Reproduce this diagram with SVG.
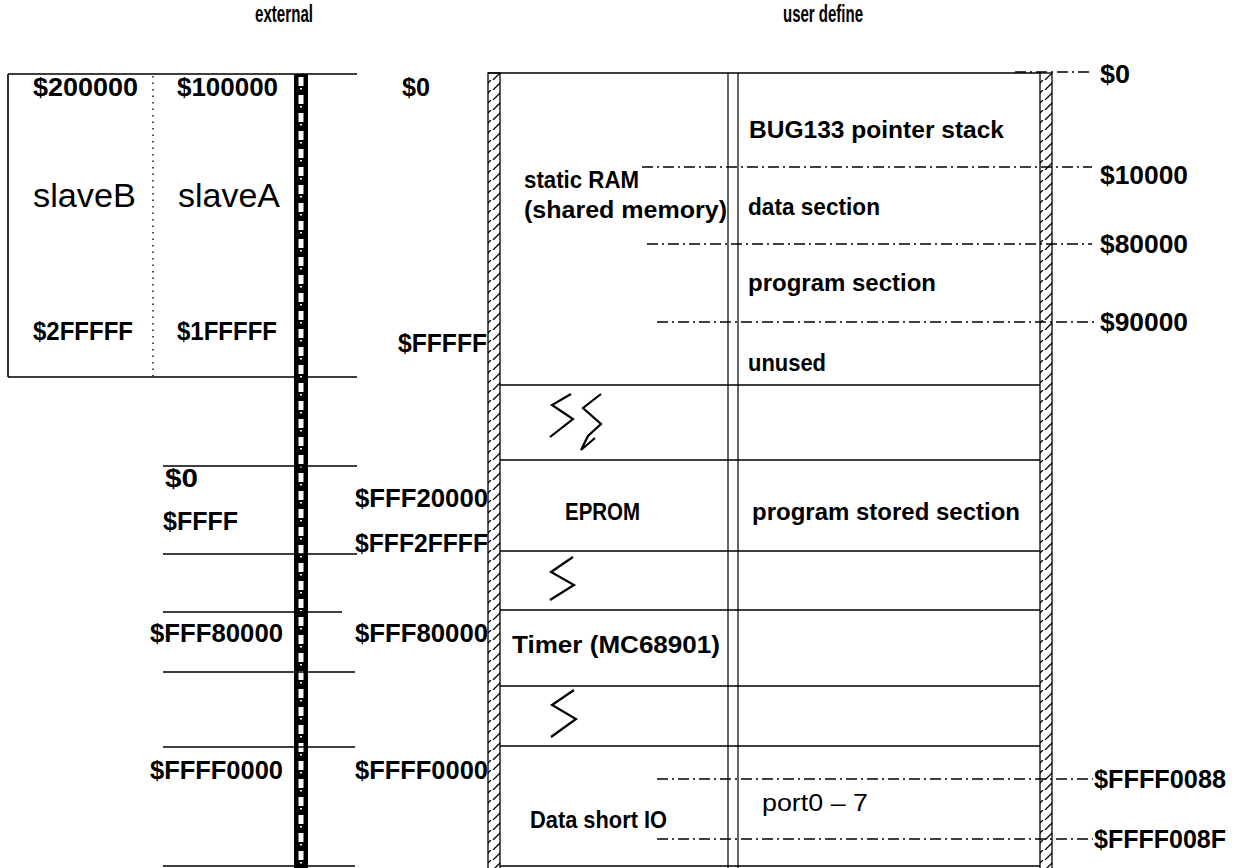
<svg xmlns="http://www.w3.org/2000/svg" width="1239" height="868" viewBox="0 0 1239 868">
<style>
text{font-family:"Liberation Sans",Arial,sans-serif;fill:#000}
.b{font-weight:bold;font-size:26px}
.m{font-weight:bold;font-size:23px}
.r{font-weight:normal;font-size:34px}
.h{font-weight:bold;font-size:24px}
.ln{stroke:#000;stroke-width:1.6;fill:none}
.thin{stroke:#000;stroke-width:1.2;fill:none}
.dd{stroke:#000;stroke-width:1.4;fill:none;stroke-dasharray:11 4 2 4}
.sq{stroke:#000;stroke-width:2.2;fill:none;stroke-linejoin:miter}
</style>
<defs>
<pattern id="hatch" patternUnits="userSpaceOnUse" width="12" height="10" x="0" y="0">
<rect width="12" height="10" fill="#fff"/>
<path d="M1,10 L11,0" stroke="#000" stroke-width="1.3"/>
</pattern>
<pattern id="busp" patternUnits="userSpaceOnUse" x="294" y="74" width="14" height="18">
<rect width="14" height="18" fill="#000"/>
<rect x="4.5" y="3" width="5" height="9" fill="#fff"/>
<rect x="6" y="14" width="2" height="1.5" fill="#fff"/>
</pattern>
</defs>
<rect width="1239" height="868" fill="#fff"/>

<g id="headers">
<text class="h" x="255" y="22" textLength="58" lengthAdjust="spacingAndGlyphs">external</text>
<text class="h" x="783" y="22" textLength="80" lengthAdjust="spacingAndGlyphs">user define</text>
</g>

<g id="slaves">
<path class="ln" d="M8,74 L357,74 M8,377 L357,377 M8,74 L8,377"/>
<line x1="153" y1="76" x2="153" y2="376" stroke="#000" stroke-width="1.4" stroke-dasharray="1.5 5"/>
<text class="b" x="33" y="96" textLength="105" lengthAdjust="spacingAndGlyphs">$200000</text>
<text class="b" x="177" y="96" textLength="101" lengthAdjust="spacingAndGlyphs">$100000</text>
<text class="r" x="33" y="207" textLength="103" lengthAdjust="spacingAndGlyphs">slaveB</text>
<text class="r" x="178" y="207" textLength="102" lengthAdjust="spacingAndGlyphs">slaveA</text>
<text class="b" x="33" y="340" textLength="100" lengthAdjust="spacingAndGlyphs">$2FFFFF</text>
<text class="b" x="177" y="340" textLength="100" lengthAdjust="spacingAndGlyphs">$1FFFFF</text>
</g>

<g id="bus">
<rect x="294" y="74" width="14" height="794" fill="url(#busp)"/>
</g>

<g id="external-blocks">
<path class="ln" d="M163,466 L357,466 M163,554 L357,554 M163,612 L342,612 M163,672 L355,672 M163,747 L355,747 M163,866 L355,866"/>
<text class="b" x="165" y="487" textLength="33" lengthAdjust="spacingAndGlyphs">$0</text>
<text class="b" x="163" y="530" textLength="75" lengthAdjust="spacingAndGlyphs">$FFFF</text>
<text class="b" x="150" y="642" textLength="133" lengthAdjust="spacingAndGlyphs">$FFF80000</text>
<text class="b" x="150" y="779" textLength="133" lengthAdjust="spacingAndGlyphs">$FFFF0000</text>
</g>

<g id="address-labels">
<text class="b" x="402" y="96" textLength="28" lengthAdjust="spacingAndGlyphs">$0</text>
<text class="b" x="398" y="352" textLength="89" lengthAdjust="spacingAndGlyphs">$FFFFF</text>
<text class="b" x="355" y="507" textLength="133" lengthAdjust="spacingAndGlyphs">$FFF20000</text>
<text class="b" x="355" y="552" textLength="133" lengthAdjust="spacingAndGlyphs">$FFF2FFFF</text>
<text class="b" x="355" y="642" textLength="133" lengthAdjust="spacingAndGlyphs">$FFF80000</text>
<text class="b" x="355" y="779" textLength="133" lengthAdjust="spacingAndGlyphs">$FFFF0000</text>
</g>

<g id="memory-map">
<rect x="488" y="73" width="12" height="800" fill="url(#hatch)" stroke="#000" stroke-width="1.3"/>
<rect x="1040" y="73" width="12" height="800" fill="url(#hatch)" stroke="#000" stroke-width="1.3"/>
<path class="ln" d="M488,73 L1040,73 M500,385 L1040,385 M500,460 L1040,460 M500,551 L1040,551 M500,610 L1040,610 M500,686 L1040,686 M500,746 L1040,746 M500,866 L1040,866"/>
<path class="thin" d="M728,73 L728,868 M738,73 L738,868"/>
</g>

<g id="static-ram">
<text class="m" x="524" y="188" textLength="115" lengthAdjust="spacingAndGlyphs">static RAM</text>
<text class="m" x="524" y="218" textLength="203" lengthAdjust="spacingAndGlyphs">(shared memory)</text>
<text class="m" x="749" y="138" textLength="255" lengthAdjust="spacingAndGlyphs">BUG133 pointer stack</text>
<text class="m" x="748" y="215" textLength="132" lengthAdjust="spacingAndGlyphs">data section</text>
<text class="m" x="748" y="291" textLength="188" lengthAdjust="spacingAndGlyphs">program section</text>
<text class="m" x="748" y="371" textLength="78" lengthAdjust="spacingAndGlyphs">unused</text>
</g>

<g id="eprom">
<text class="m" x="565" y="520" textLength="75" lengthAdjust="spacingAndGlyphs">EPROM</text>
<text class="m" x="752" y="520" textLength="268" lengthAdjust="spacingAndGlyphs">program stored section</text>
</g>

<g id="timer">
<text class="m" x="512" y="653" textLength="208" lengthAdjust="spacingAndGlyphs">Timer (MC68901)</text>
</g>

<g id="data-short-io">
<text class="m" x="530" y="828" textLength="137" lengthAdjust="spacingAndGlyphs">Data short IO</text>
<text x="762" y="811" font-size="23" textLength="106" lengthAdjust="spacingAndGlyphs">port0 – 7</text>
</g>

<g id="gaps">
<path class="sq" d="M571,394 L552,405 L573,419 L550,437"/>
<path class="sq" d="M601,394 L583,408 L601,424 L588,436 L581,450 L595,438"/>
<path class="sq" d="M573,557 L551,572 L574,585 L550,600"/>
<path class="sq" d="M574,690 L552,705 L576,719 L551,737"/>
</g>

<g id="connectors">
<path class="dd" d="M1015,72 L1092,72"/>
<path class="dd" d="M642,167 L1092,167"/>
<path class="dd" d="M647,244 L1092,244"/>
<path class="dd" d="M657,322 L1095,322"/>
<path class="dd" d="M657,779 L1093,779"/>
<path class="dd" d="M657,839 L1093,839"/>
</g>

<g id="right-labels">
<text class="b" x="1100" y="83" textLength="30" lengthAdjust="spacingAndGlyphs">$0</text>
<text class="b" x="1100" y="184" textLength="88" lengthAdjust="spacingAndGlyphs">$10000</text>
<text class="b" x="1100" y="253" textLength="88" lengthAdjust="spacingAndGlyphs">$80000</text>
<text class="b" x="1100" y="331" textLength="88" lengthAdjust="spacingAndGlyphs">$90000</text>
<text class="b" x="1094" y="788" textLength="132" lengthAdjust="spacingAndGlyphs">$FFFF0088</text>
<text class="b" x="1094" y="848" textLength="132" lengthAdjust="spacingAndGlyphs">$FFFF008F</text>
</g>
</svg>
